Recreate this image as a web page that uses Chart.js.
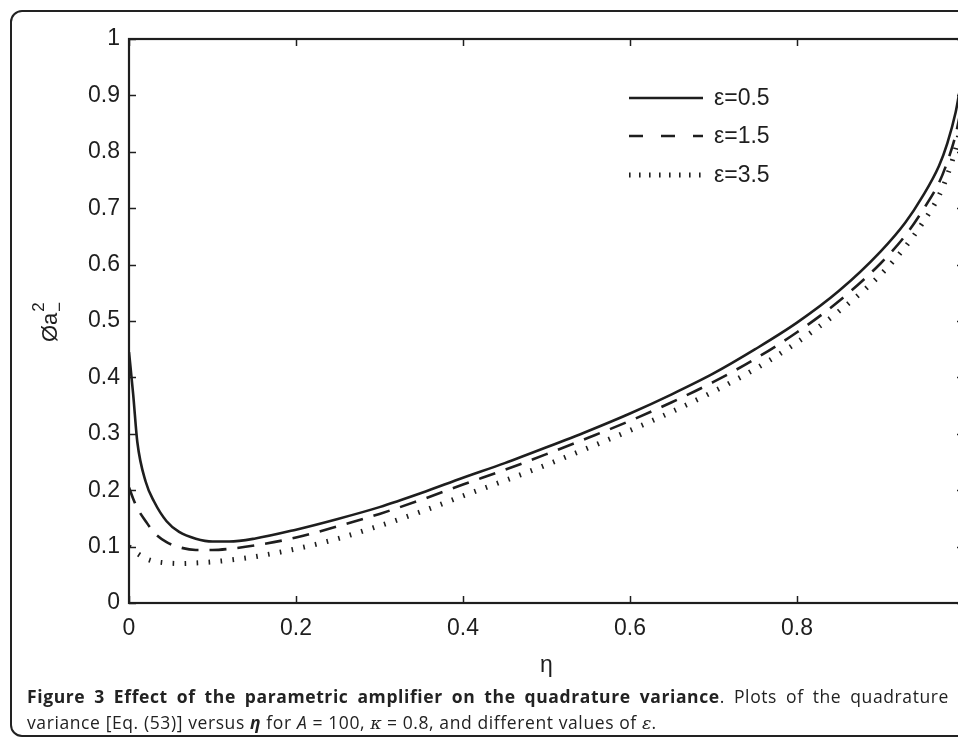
<!DOCTYPE html>
<html>
<head>
<meta charset="utf-8">
<script src="https://cdn.jsdelivr.net/npm/chart.js@4/dist/chart.umd.min.js"></script>
<style>
  html, body { margin:0; padding:0; background:#fff; width:958px; height:740px; overflow:hidden; }
  #frame { position:absolute; left:10px; top:10px; width:1000px; height:727px; border:2px solid #222; border-radius:12px; box-sizing:border-box; }
  #c { position:absolute; left:0; top:0; }
  .cap { position:absolute; left:27px; font-family:"Open Sans", sans-serif; font-size:17.5px; letter-spacing:0.6px; color:#222; white-space:nowrap; }
  #cap1 { top:684px; width:922px; text-align:justify; text-align-last:justify; white-space:normal; }
  #cap2 { top:710px; }
  .m { font-family:"DejaVu Serif", serif; font-style:italic; letter-spacing:0; }
</style>
</head>
<body>
<div id="frame"></div>
<canvas id="c" width="980" height="700"></canvas>
<div class="cap" id="cap1"><b>Figure 3 Effect of the parametric amplifier on the quadrature variance</b>. Plots of the quadrature</div>
<div class="cap" id="cap2">variance [Eq. (53)] versus <b><i>η</i></b> for <i>A</i> = 100, <span class="m">κ</span> = 0.8, and different values of <span class="m">ε</span>.</div>
<script>
const eta = [0, 0.005, 0.01, 0.02, 0.03, 0.045, 0.06, 0.08, 0.1, 0.12, 0.15, 0.2, 0.25, 0.3, 0.35, 0.4, 0.45, 0.5, 0.55, 0.6, 0.65, 0.7, 0.75, 0.8, 0.85, 0.9, 0.93, 0.95, 0.97, 0.98, 0.99, 0.995];
const eps05 = [0.445, 0.37, 0.285, 0.215, 0.18, 0.145, 0.126, 0.114, 0.109, 0.109, 0.114, 0.13, 0.149, 0.17, 0.195, 0.222, 0.248, 0.276, 0.305, 0.336, 0.37, 0.407, 0.45, 0.497, 0.553, 0.623, 0.675, 0.72, 0.775, 0.815, 0.87, 0.91];
const eps15 = [0.205, 0.185, 0.168, 0.145, 0.125, 0.108, 0.099, 0.094, 0.094, 0.096, 0.102, 0.116, 0.136, 0.158, 0.183, 0.21, 0.236, 0.264, 0.293, 0.323, 0.356, 0.392, 0.433, 0.48, 0.535, 0.602, 0.652, 0.695, 0.745, 0.782, 0.83, 0.865];
const eps35 = [0.1, 0.094, 0.088, 0.079, 0.074, 0.071, 0.07, 0.071, 0.073, 0.076, 0.082, 0.096, 0.114, 0.137, 0.162, 0.19, 0.217, 0.245, 0.275, 0.306, 0.339, 0.375, 0.415, 0.462, 0.517, 0.582, 0.632, 0.673, 0.722, 0.758, 0.805, 0.838];
const seriesLabels = ['ε=0.5', 'ε=1.5', 'ε=3.5'];
const xTicks = [0, 0.2, 0.4, 0.6, 0.8];
const yTicks = [0, 0.1, 0.2, 0.3, 0.4, 0.5, 0.6, 0.7, 0.8, 0.9, 1];

const INK = '#1e1e1e';
const styles = [
  { dash: [], width: 2.6, legendDash: [] },
  { dash: [17, 11], width: 2.6, legendDash: [14, 18] },
  { dash: [1.6, 10.4], width: 5, legendDash: [1.6, 8.4] }
];
const seriesValues = [eps05, eps15, eps35];

const datasets = seriesValues.map((vals, i) => ({
  label: seriesLabels[i],
  data: eta.map((e, k) => ({ x: e, y: vals[k] })),
  borderColor: INK,
  borderWidth: styles[i].width,
  borderDash: styles[i].dash,
  borderCapStyle: 'butt',
  pointRadius: 0,
  fill: false,
  cubicInterpolationMode: 'monotone'
}));

const tickFont = { family: '"Liberation Sans", Arial, sans-serif', size: 23 };

const framePlugin = {
  id: 'framePlugin',
  afterDatasetsDraw(chart) {
    const { ctx, chartArea: { left, right, top, bottom }, scales: { x, y } } = chart;
    ctx.save();
    ctx.strokeStyle = INK;
    ctx.lineWidth = 1.5;
    ctx.setLineDash([]);
    const L = 7;
    x.ticks.forEach(t => {
      const px = Math.round(x.getPixelForValue(t.value)) + 0.5;
      ctx.beginPath(); ctx.moveTo(px, bottom); ctx.lineTo(px, bottom - L); ctx.stroke();
      ctx.beginPath(); ctx.moveTo(px, top); ctx.lineTo(px, top + L); ctx.stroke();
    });
    y.ticks.forEach(t => {
      const py = Math.round(y.getPixelForValue(t.value)) + 0.5;
      ctx.beginPath(); ctx.moveTo(left, py); ctx.lineTo(left + L, py); ctx.stroke();
      ctx.beginPath(); ctx.moveTo(right, py); ctx.lineTo(right - L, py); ctx.stroke();
    });
    ctx.lineWidth = 2.2;
    ctx.strokeRect(left, top, right - left, bottom - top);

    // legend
    const rows = [98, 136, 175];
    chart.data.datasets.forEach((ds, i) => {
      const yy = rows[i];
      ctx.beginPath();
      ctx.lineWidth = i === 2 ? 5 : 2.6;
      ctx.setLineDash(styles[i].legendDash);
      ctx.lineCap = 'butt';
      ctx.moveTo(629, yy); ctx.lineTo(703, yy); ctx.stroke();
      ctx.setLineDash([]);
      ctx.fillStyle = INK;
      ctx.font = '23px "Liberation Sans", Arial, sans-serif';
      ctx.textBaseline = 'middle';
      ctx.textAlign = 'left';
      ctx.fillText(ds.label, 714, yy + 1);
    });

    // y-axis label
    ctx.save();
    ctx.translate(57, 342);
    ctx.rotate(-Math.PI / 2);
    ctx.fillStyle = INK;
    ctx.textBaseline = 'alphabetic';
    ctx.textAlign = 'left';
    ctx.font = '22px "Liberation Sans", Arial, sans-serif';
    ctx.fillText('Øa', 0, 0);
    const w = ctx.measureText('Øa').width;
    ctx.font = '17px "Liberation Sans", Arial, sans-serif';
    ctx.fillText('2', w + 1, -13);
    ctx.fillText('−', w + 1, 8);
    ctx.restore();
    ctx.restore();
  }
};

new Chart(document.getElementById('c'), {
  type: 'line',
  data: { datasets },
  options: {
    responsive: false,
    animation: false,
    devicePixelRatio: 1,
    layout: { padding: { left: 0, top: 39, right: 16, bottom: 17 } },
    plugins: { legend: { display: false }, tooltip: { enabled: false } },
    scales: {
      x: {
        type: 'linear', min: 0, max: 1,
        afterBuildTicks(scale) { scale.ticks = xTicks.map(v => ({ value: v })); },
        afterFit(scale) { scale.height = 80; },
        grid: { display: false, drawTicks: false },
        border: { display: false },
        ticks: { color: INK, font: tickFont, padding: 12, maxRotation: 0, callback: v => String(v) },
        title: { display: true, text: 'η', color: INK, font: { family: '"Liberation Sans", Arial, sans-serif', size: 23 }, padding: { top: 6 } }
      },
      y: {
        type: 'linear', min: 0, max: 1,
        afterBuildTicks(scale) { scale.ticks = yTicks.map(v => ({ value: v })); },
        afterFit(scale) { scale.width = 129; },
        grid: { display: false, drawTicks: false },
        border: { display: false },
        ticks: { color: INK, font: tickFont, padding: 9, callback: v => String(v) }
      }
    }
  },
  plugins: [framePlugin]
});
</script>
</body>
</html>
